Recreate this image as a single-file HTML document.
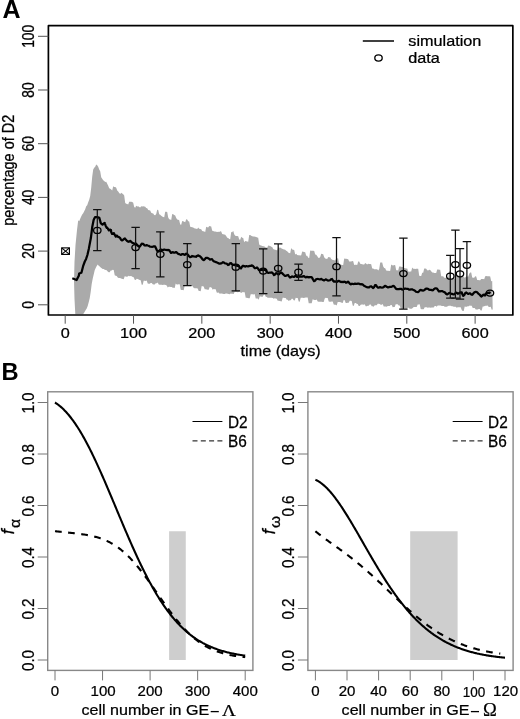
<!DOCTYPE html><html><head><meta charset="utf-8"><style>html,body{margin:0;padding:0;background:#fff;}svg{display:block;filter:blur(0.35px);}</style></head><body><svg width="520" height="719" viewBox="0 0 520 719"><rect width="520" height="719" fill="#fff"/><polygon points="78.2,220.24 79.2,221.24 80.2,218.74 81.2,216.42 82.2,214.38 83.2,213.14 84.2,211.29 85.2,209.29 86.2,206.21 87.2,205.36 88.2,202.36 89.2,199.7 90.2,196.01 91.2,187.74 92.2,176.76 93.2,169.55 94.2,167.75 95.2,166.63 96.2,164.46 97.2,165.22 98.2,166.8 99.2,169.48 100.2,171.28 101.2,177.26 102.2,178.87 103.2,180.18 104.2,181.04 105.2,181.97 106.2,181.69 107.2,183.66 108.2,185.63 109.2,188.35 110.2,188.71 111.2,189.56 112.2,190.45 113.2,186.22 114.2,187.03 115.2,186.92 116.2,187.66 117.2,190.49 118.2,191.49 119.2,193.07 120.2,194.07 121.2,192.85 122.2,193.61 123.2,194.27 124.2,195.38 125.2,203.11 126.2,203.77 127.2,203.89 128.2,204.55 129.2,201.63 130.2,201.74 131.2,201.86 132.2,201.97 133.2,202.77 134.2,206.99 135.2,207.86 136.2,205.85 137.2,206.59 138.2,206.17 139.2,207 140.2,207.38 141.2,206.16 142.2,206.39 143.2,206.32 144.2,206.55 145.2,206.78 146.2,208.05 147.2,208.28 148.2,210.04 149.2,210.27 150.2,210.52 151.2,212.82 152.2,213.26 153.2,213.6 154.2,214.91 155.2,215.25 156.2,213.98 157.2,209.73 158.2,210.07 159.2,214.29 160.2,214.63 161.2,215.69 162.2,216.56 163.2,216.91 164.2,217.31 165.2,211.66 166.2,211.65 167.2,212.05 168.2,217.39 169.2,219.16 170.2,219.56 171.2,219.96 172.2,213.89 173.2,214.29 174.2,215.06 175.2,215.46 176.2,218.01 177.2,219.38 178.2,219.78 179.2,220.18 180.2,224.45 181.2,224.85 182.2,220.95 183.2,221.35 184.2,221.75 185.2,222.15 186.2,219.21 187.2,219.51 188.2,221.31 189.2,221.61 190.2,226.68 191.2,226.98 192.2,227.28 193.2,227.58 194.2,228.13 195.2,228.43 196.2,228.73 197.2,229.03 198.2,227.52 199.2,228.7 200.2,229 201.2,229.3 202.2,231.07 203.2,231.31 204.2,231.61 205.2,231.91 206.2,226.77 207.2,227.18 208.2,227.48 209.2,225.92 210.2,226.17 211.2,226.43 212.2,230.74 213.2,230.99 214.2,231.59 215.2,231.39 216.2,231.64 217.2,231.89 218.2,231.77 219.2,232.02 220.2,231.32 221.2,231.57 222.2,233.94 223.2,234.19 224.2,234.44 225.2,234.7 226.2,236.03 227.2,237.68 228.2,237.98 229.2,238.93 230.2,239.19 231.2,232.06 232.2,232.31 233.2,230.78 234.2,234.21 235.2,235.67 236.2,235.88 237.2,235.92 238.2,236.13 239.2,239.43 240.2,239.64 241.2,236.85 242.2,237.83 243.2,238.04 244.2,242.18 245.2,241.01 246.2,241.22 247.2,241.43 248.2,241.64 249.2,234.88 250.2,235.11 251.2,235.82 252.2,236.13 253.2,236.43 254.2,236.5 255.2,236.8 256.2,237.11 257.2,237.41 258.2,237.72 259.2,244.45 260.2,245.32 261.2,245.62 262.2,245.93 263.2,246.23 264.2,246.3 265.2,247.17 266.2,247.47 267.2,247.78 268.2,245.48 269.2,245.78 270.2,246.08 271.2,246.72 272.2,247.03 273.2,249.08 274.2,249.38 275.2,249.68 276.2,249.97 277.2,250.6 278.2,247.4 279.2,247.7 280.2,247.41 281.2,248.37 282.2,248.67 283.2,249.13 284.2,249.43 285.2,249.72 286.2,250.85 287.2,251.15 288.2,252.61 289.2,252.91 290.2,253.21 291.2,247.88 292.2,249.52 293.2,249.81 294.2,250.11 295.2,254.4 296.2,253.77 297.2,255.01 298.2,255.17 299.2,255.32 300.2,255.47 301.2,255.18 302.2,251.58 303.2,251.74 304.2,251.89 305.2,252.15 306.2,255.69 307.2,255.85 308.2,257.78 309.2,257.93 310.2,250.51 311.2,250.67 312.2,250.71 313.2,250.87 314.2,251.02 315.2,254.51 316.2,254.66 317.2,256.05 318.2,257.85 319.2,258.02 320.2,257.02 321.2,253.73 322.2,253.94 323.2,254.14 324.2,257.24 325.2,258.5 326.2,258.7 327.2,258.91 328.2,256.93 329.2,257.13 330.2,257.34 331.2,259.07 332.2,259.77 333.2,259.97 334.2,260.18 335.2,260.38 336.2,258.22 337.2,258.31 338.2,258.51 339.2,264.27 340.2,264.48 341.2,264.68 342.2,264.88 343.2,265.04 344.2,258.46 345.2,258.66 346.2,258.83 347.2,258.99 348.2,259.15 349.2,261.4 350.2,261.57 351.2,261.53 352.2,261.08 353.2,261.25 354.2,265.08 355.2,264.64 356.2,264.8 357.2,264.96 358.2,261.41 359.2,261.57 360.2,263.64 361.2,264.1 362.2,264.27 363.2,264.43 364.2,264.59 365.2,263.09 366.2,263.74 367.2,264.6 368.2,263.78 369.2,263.95 370.2,264.1 371.2,264.2 372.2,268.39 373.2,268.49 374.2,269.13 375.2,269.23 376.2,269.16 377.2,269.26 378.2,270.5 379.2,269.06 380.2,262.38 381.2,262.48 382.2,262.58 383.2,266.59 384.2,268.04 385.2,268.14 386.2,270.58 387.2,270.68 388.2,270.78 389.2,270.88 390.2,270.67 391.2,264.47 392.2,265.28 393.2,265.39 394.2,265.08 395.2,265.23 396.2,270.19 397.2,270.33 398.2,270.48 399.2,266.47 400.2,266.62 401.2,266.77 402.2,266.92 403.2,267.07 404.2,268.12 405.2,268.27 406.2,268.42 407.2,268.56 408.2,271.6 409.2,271.75 410.2,271.48 411.2,271.62 412.2,267.42 413.2,268.72 414.2,268.86 415.2,269.01 416.2,268.64 417.2,268.74 418.2,268.77 419.2,275.81 420.2,275.91 421.2,276.01 422.2,272.71 423.2,272.81 424.2,268.49 425.2,268.59 426.2,268.69 427.2,270.37 428.2,270.47 429.2,269.79 430.2,269.89 431.2,271.33 432.2,272.45 433.2,272.55 434.2,273.1 435.2,272.89 436.2,272.99 437.2,269.43 438.2,269.53 439.2,269.63 440.2,269.73 441.2,276.16 442.2,276.26 443.2,276.37 444.2,277.75 445.2,277.85 446.2,277.96 447.2,277.33 448.2,277.43 449.2,271.31 450.2,271.42 451.2,279.31 452.2,279.41 453.2,278.45 454.2,278.55 455.2,278.66 456.2,275.31 457.2,275.42 458.2,275.52 459.2,276.37 460.2,276.47 461.2,276.66 462.2,276.77 463.2,276.86 464.2,277.43 465.2,277.53 466.2,276.45 467.2,276.55 468.2,276.87 469.2,273.71 470.2,272.41 471.2,272.51 472.2,277.6 473.2,277.64 474.2,277.73 475.2,276.33 476.2,276.42 477.2,279.94 478.2,280.04 479.2,280.19 480.2,280.29 481.2,278.9 482.2,279 483.2,279.1 484.2,279.32 485.2,276.19 486.2,276.12 487.2,276.37 488.2,276.26 489.2,276.16 490.2,276.59 491.2,281.17 492.2,281.07 492.7,309.58 491.7,309.64 490.7,306.82 489.7,306.88 488.7,306.94 487.7,305.59 486.7,305.65 485.7,305.72 484.7,306.11 483.7,306.58 482.7,306.53 481.7,310.49 480.7,310.44 479.7,308.95 478.7,308.9 477.7,309.51 476.7,309.46 475.7,309.4 474.7,308.03 473.7,307.98 472.7,307.92 471.7,305.69 470.7,305.63 469.7,305.58 468.7,306.25 467.7,306.2 466.7,306.71 465.7,306.63 464.7,306.58 463.7,311.07 462.7,311.02 461.7,310.06 460.7,307.19 459.7,307.19 458.7,307.19 457.7,307.19 456.7,307.68 455.7,306.82 454.7,306.82 453.7,306.82 452.7,306.31 451.7,306.31 450.7,305.77 449.7,305.77 448.7,305.77 447.7,306.35 446.7,306.79 445.7,306.79 444.7,306.79 443.7,306.04 442.7,306.04 441.7,306.07 440.7,305.59 439.7,305.59 438.7,305.58 437.7,305.55 436.7,306.69 435.7,305.91 434.7,305.88 433.7,307.56 432.7,307.53 431.7,307.5 430.7,307.73 429.7,307.6 428.7,307.57 427.7,307.82 426.7,307.19 425.7,307.16 424.7,307.13 423.7,309.24 422.7,309.21 421.7,309.14 420.7,309.11 419.7,304.33 418.7,304.55 417.7,304.52 416.7,306.97 415.7,306.95 414.7,306.93 413.7,306.91 412.7,308.12 411.7,308.66 410.7,308.64 409.7,308.63 408.7,307.79 407.7,307.78 406.7,308.53 405.7,308.51 404.7,308.49 403.7,308.33 402.7,308.79 401.7,308.77 400.7,308.76 399.7,305.41 398.7,305.39 397.7,304.28 396.7,304.26 395.7,304.24 394.7,306.98 393.7,306.97 392.7,307.16 391.7,305.08 390.7,305.03 389.7,306.05 388.7,306 387.7,305.95 386.7,306.67 385.7,306.62 384.7,306.57 383.7,306.51 382.7,304.11 381.7,304.81 380.7,304.82 379.7,303.89 378.7,303.84 377.7,303.79 376.7,305.27 375.7,305.22 374.7,305.33 373.7,306.64 372.7,306.2 371.7,306.15 370.7,304.58 369.7,304.52 368.7,305.86 367.7,305.77 366.7,306.33 365.7,306.25 364.7,304.29 363.7,304.65 362.7,304.57 361.7,304.48 360.7,304.75 359.7,306.1 358.7,306.06 357.7,303.92 356.7,303.84 355.7,302.99 354.7,302.9 353.7,305.93 352.7,305.42 351.7,300.92 350.7,300.75 349.7,300.67 348.7,302.81 347.7,302.73 346.7,302.97 345.7,302.89 344.7,300.19 343.7,300.11 342.7,302.91 341.7,302.82 340.7,302.21 339.7,302.11 338.7,302.01 337.7,301.91 336.7,305.39 335.7,304.75 334.7,304.65 333.7,304.55 332.7,301.55 331.7,301.45 330.7,301.79 329.7,301.69 328.7,301.59 327.7,298.06 326.7,297.96 325.7,297.86 324.7,298.55 323.7,302.05 322.7,301.95 321.7,301.85 320.7,301.75 319.7,301.72 318.7,301.63 317.7,301.58 316.7,299.43 315.7,299.93 314.7,299.88 313.7,299.82 312.7,299.33 311.7,303.34 310.7,303.29 309.7,303.24 308.7,303.18 307.7,297.49 306.7,297.44 305.7,297.39 304.7,297.86 303.7,297.89 302.7,297.84 301.7,297.79 300.7,297.74 299.7,301.63 298.7,301.46 297.7,297.93 296.7,297.88 295.7,297.81 294.7,300.43 293.7,300.33 292.7,298.82 291.7,298.72 290.7,300.36 289.7,300.26 288.7,301.07 287.7,299.85 286.7,299.75 285.7,298.01 284.7,297.91 283.7,297.81 282.7,297.71 281.7,301.46 280.7,301.36 279.7,300.97 278.7,300.87 277.7,300.77 276.7,298.65 275.7,298.55 274.7,298.17 273.7,298.85 272.7,297.88 271.7,297.85 270.7,297.8 269.7,297.75 268.7,297.7 267.7,297.66 266.7,296.89 265.7,296.85 264.7,294.35 263.7,294.71 262.7,296.71 261.7,296.66 260.7,296.61 259.7,296.56 258.7,299.74 257.7,298.47 256.7,298.42 255.7,298.38 254.7,294.02 253.7,294.39 252.7,294.34 251.7,294.29 250.7,294.24 249.7,298.32 248.7,298.14 247.7,297.99 246.7,297.83 245.7,297.68 244.7,292.28 243.7,292.13 242.7,291.98 241.7,292.8 240.7,292.64 239.7,291.48 238.7,291.9 237.7,292.22 236.7,292.07 235.7,291.91 234.7,291.75 233.7,293.98 232.7,293.82 231.7,293.7 230.7,293.55 229.7,294.23 228.7,294.08 227.7,293.71 226.7,293.56 225.7,293.42 224.7,294.05 223.7,293.9 222.7,293.75 221.7,293.61 220.7,293.46 219.7,293.86 218.7,292.45 217.7,292.73 216.7,292.53 215.7,289.32 214.7,289.17 213.7,289.03 212.7,289.68 211.7,287.73 210.7,287.27 209.7,287.12 208.7,289.75 207.7,289.65 206.7,289.55 205.7,289.37 204.7,289.27 203.7,286.43 202.7,286.18 201.7,286.08 200.7,291.18 199.7,291.08 198.7,290.98 197.7,288.44 196.7,288.34 195.7,288.24 194.7,288.14 193.7,288.04 192.7,286.35 191.7,286.04 190.7,285.94 189.7,285.84 188.7,285.84 187.7,285.74 186.7,285.64 185.7,285.59 184.7,285.49 183.7,290.21 182.7,290.11 181.7,290.01 180.7,289.64 179.7,284.29 178.7,284.19 177.7,284.61 176.7,284.51 175.7,283.4 174.7,287.89 173.7,287.79 172.7,287.69 171.7,286.92 170.7,286.91 169.7,286.81 168.7,286.71 167.7,287.53 166.7,285.57 165.7,284.91 164.7,284.81 163.7,284.71 162.7,284.97 161.7,284.87 160.7,284.76 159.7,284.73 158.7,284.62 157.7,282.43 156.7,283.37 155.7,283.26 154.7,284.55 153.7,284.44 152.7,284.33 151.7,283.01 150.7,282.9 149.7,283.78 148.7,283.65 147.7,283.52 146.7,280.58 145.7,280.96 144.7,280.83 143.7,280.7 142.7,284.81 141.7,284.68 140.7,280.2 139.7,279.97 138.7,279.5 137.7,279.03 136.7,278.82 135.7,280.05 134.7,279.66 133.7,277.27 132.7,276.99 131.7,276.29 130.7,276.01 129.7,276.34 128.7,275.85 127.7,276.39 126.7,276.78 125.7,276.47 124.7,276.16 123.7,279.25 122.7,278.94 121.7,278.63 120.7,278.31 119.7,277.95 118.7,277.95 117.7,277.58 116.7,276.01 115.7,275.65 114.7,275.31 113.7,270.03 112.7,269.69 111.7,270.49 110.7,270.44 109.7,272.23 108.7,272.26 107.7,271.45 106.7,270.32 105.7,269.97 104.7,269.64 103.7,268.92 102.7,269.08 101.7,268.35 100.7,267.57 99.7,266.49 98.7,265.68 97.7,264.62 96.7,266.06 95.7,267.95 94.7,270.21 93.7,274.38 92.7,278.75 91.7,284 90.7,292 89.7,298.35 88.7,302.27 87.7,306.02 86.7,308.46 85.7,310 84.7,311.81 83.7,313.61 82.7,314.3 75.3,314.3 74.5,299 74,281 74.5,262 75.5,245 77,230" fill="#aaaaaa"/><polyline points="72.3,278.3 75.3,279.49 76.6,280 78.8,275.7 79.2,273.5 81.4,272.7 82.2,269.7 83.1,266.2 84.8,261.5 86.1,258.9 87.4,255 88.8,248.9 90.9,237.8 92.3,226.7 93.7,219.7 95.1,217 97.2,217 99.3,217.84 100.3,221.27 100.6,222.8 101.6,223.96 102.6,224.67 102.7,224.49 103.7,223.54 104.7,222.94 104.8,223.36 105.8,226.22 106.8,227.86 106.9,227.31 107.9,228.69 108.9,230.48 109,230.48 110,229.69 111,230.02 111.1,231.8 112.1,233.93 113.1,233.83 113.8,233.13 114.8,234.98 115.8,236.67 115.9,235.67 116.9,235.64 117.9,236.71 118,236.84 119,237.06 120,237.8 120.9,239.62 121.9,240.4 122.9,239.92 123.9,239.02 124.9,238.41 125.7,239.44 126.7,240.53 127.7,241.38 128.7,241.79 129.7,241.19 130.4,240.87 131.4,242.05 132.4,242.75 133.4,243.27 134.4,243.79 135.1,243.74 136.1,243.6 137.1,245.09 138.1,245.99 139.1,246.59 139.8,246.55 140.8,245.1 141.8,243.65 142.8,243.77 143.8,244.51 144.6,245.42 145.6,245.5 146.6,245.11 147.6,245.52 148.6,245.73 149.6,246.41 150,246.7 151,246.75 152,246.83 153,246.65 154,246.27 155,246.39 156,248.24 157,250.57 158,251.46 159,250.97 160,249.97 161,249.57 162,250.17 163,249.98 164,249.64 165,249.73 166,249.97 167,250.02 168,249.97 169,250.01 170,251.38 171,252.94 172,252.48 173,252.1 174,252.68 175,252.65 176,252.04 177,252.67 178,253.78 179,254.07 180,254.46 181,254.82 182,254.18 183,254.04 184,254.61 185,254.84 186,253.74 187,253.77 188,254.93 189,256.25 190,257.09 191,256.87 192,256 193,256.37 194,256.48 195,256.51 196,256.77 197,255.93 198,255.35 199,255.91 200,256.31 201,257.26 202,258.63 203,259.71 204,260.13 205,258.96 206,257.77 207,257.83 208,258.14 209,258.73 210,259.59 211,259.25 212,259.17 213,260.56 214,261.39 215,261.75 216,262.12 217,262.51 218,262.94 219,263.55 220,263.59 221,263.42 222,262.89 223,262.19 224,262.63 225,263.32 226,263.49 227,263.84 228,265.06 229,264.67 230,263.28 231,263.09 232,264.18 233,264.81 234,264.91 235,265.19 236,265.46 237,265.77 238,265.71 239,266.44 240,268.02 241,268.38 242,266.64 243,265.71 244,266.1 245,266.59 246,266.17 247,266.23 248,266.47 249,266.11 250,265.97 251,265.88 252,265.38 253,265.94 254,267.36 255,268.27 256,267.96 257,267.47 258,268.55 259,270.08 260,270.41 261,269.88 262,269.74 263,270.23 264,269.87 265,269.51 266,270.58 267,272.24 268,272.77 269,272.76 270,272.52 271,272.6 272,272.47 273,273.49 274,275.01 275,274.44 276,273.24 277,273.31 278,274.13 279,274.38 280,273.15 281,272.3 282,273.09 283,274.13 284,275.03 285,275.8 286,275.77 287,275.29 288,275 289,276.35 290,277.59 291,277.12 292,276.45 293,276.73 294,276.99 295,276.07 296,276.08 297,276.85 298,277.01 299,276.61 300,276.6 301,276.62 302,276.66 303,276.34 304,276.09 305,276.9 306,277.38 307,276.84 308,277.07 309,277.41 310,277.03 311,277.06 312,277.61 313,279.48 314,281.09 315,280.71 316,279.37 317,279 318,278.95 319,279.26 320,279.43 321,278.87 322,279.39 323,280.03 324,280.43 325,279.87 326,279.34 327,279.95 328,280.53 329,280.5 330,280.21 331,279.23 332,278.98 333,280.65 334,281.58 335,281.43 336,281.59 337,281.78 338,281.08 339,280.77 340,281.54 341,282.05 342,281.76 343,282.13 344,281.71 345,281.78 346,282.82 347,282.41 348,281.66 349,282.51 350,283.99 351,284.31 352,283.74 353,283.92 354,284.03 355,283.68 356,283.85 357,283.81 358,283.51 359,283.68 360,284.19 361,284.3 362,284.15 363,284.74 364,285.78 365,286.18 366,286.67 367,287.13 368,287.48 369,287.49 370,286.49 371,286.32 372,286.91 373,288.02 374,287.35 375,285.15 376,285.15 377,286.75 378,287.61 379,287.51 380,287.18 381,287.37 382,287.53 383,287.41 384,286.86 385,285.89 386,286.35 387,286.9 388,287.48 389,287.17 390,286.81 391,286.98 392,286.5 393,285.94 394,286.14 395,287.43 396,288.7 397,289.12 398,289.01 399,289.14 400,288.86 401,288.82 402,289.45 403,289.61 404,288.91 405,288.57 406,288.73 407,288.76 408,288.92 409,289.59 410,289.6 411,289.43 412,289.3 413,289.81 414,290.17 415,290.65 416,291.73 417,292 418,292.17 419,291.4 420,290.08 421,289.94 422,290.48 423,290.57 424,290.27 425,289.48 426,288.73 427,288.68 428,288.76 429,289.65 430,289.85 431,289.85 432,290.32 433,290.23 434,289.08 435,288.42 436,288.43 437,288.6 438,290.05 439,291.49 440,291.35 441,291.19 442,291.02 443,291.53 444,291.98 445,292.56 446,293.73 447,294.47 448,293.88 449,293.07 450,292.88 450.8,293.51 451.8,293.85 452.8,294.18 453.8,294.41 454.8,294.05 455.8,292.61 456.8,292.89 457.8,293.74 458.8,293.21 459.8,292.58 460.8,292.36 461.8,292.46 462.3,294.1 463.3,295.85 464.3,295.01 465.3,293.02 466.3,292.5 467.3,293.35 468.3,293.95 469.3,293.35 470.3,293.48 471.3,294.62 472.3,294.75 473.3,293.57 474.3,292.37 475.3,291.95 476.3,291.97 477.3,292.32 478.3,293.62 479.3,294.31 480.3,295.38 481.3,296.47 482.3,295.78 483.3,294.66 484.3,295.27 485.3,295.43 485.4,294.14 486.4,293.22 487.4,292.99 488.4,292.97 489.4,293.01 490,291.63" fill="none" stroke="#000" stroke-width="2.25" stroke-linejoin="round"/><path d="M97.3,209.6V250.5M93.1,209.6H101.5M93.1,250.5H101.5" stroke="#111" stroke-width="1.25" fill="none"/><ellipse cx="97.3" cy="230.4" rx="3.7" ry="3.0" fill="none" stroke="#000" stroke-width="1.3"/><path d="M135.6,227.3V268.7M131.4,227.3H139.8M131.4,268.7H139.8" stroke="#111" stroke-width="1.25" fill="none"/><ellipse cx="135.6" cy="247.6" rx="3.7" ry="3.0" fill="none" stroke="#000" stroke-width="1.3"/><path d="M160.3,231.9V276.9M156.1,231.9H164.5M156.1,276.9H164.5" stroke="#111" stroke-width="1.25" fill="none"/><ellipse cx="160.3" cy="254.3" rx="3.7" ry="3.0" fill="none" stroke="#000" stroke-width="1.3"/><path d="M187.3,243.5V285.5M183.1,243.5H191.5M183.1,285.5H191.5" stroke="#111" stroke-width="1.25" fill="none"/><ellipse cx="187.3" cy="264.7" rx="3.7" ry="3.0" fill="none" stroke="#000" stroke-width="1.3"/><path d="M235.8,243.5V290.8M231.6,243.5H240M231.6,290.8H240" stroke="#111" stroke-width="1.25" fill="none"/><ellipse cx="235.8" cy="267.2" rx="3.7" ry="3.0" fill="none" stroke="#000" stroke-width="1.3"/><path d="M263.2,248.9V293.5M259,248.9H267.4M259,293.5H267.4" stroke="#111" stroke-width="1.25" fill="none"/><ellipse cx="263.2" cy="271.1" rx="3.7" ry="3.0" fill="none" stroke="#000" stroke-width="1.3"/><path d="M278.2,243.8V292.3M274,243.8H282.4M274,292.3H282.4" stroke="#111" stroke-width="1.25" fill="none"/><ellipse cx="278.2" cy="268.3" rx="3.7" ry="3.0" fill="none" stroke="#000" stroke-width="1.3"/><path d="M298.5,264.2V280.3M294.3,264.2H302.7M294.3,280.3H302.7" stroke="#111" stroke-width="1.25" fill="none"/><ellipse cx="298.5" cy="272.2" rx="3.7" ry="3.0" fill="none" stroke="#000" stroke-width="1.3"/><path d="M336.5,237.6V295.8M332.3,237.6H340.7M332.3,295.8H340.7" stroke="#111" stroke-width="1.25" fill="none"/><ellipse cx="336.5" cy="266.7" rx="3.7" ry="3.0" fill="none" stroke="#000" stroke-width="1.3"/><path d="M403.4,238V309.1M399.2,238H407.6M399.2,309.1H407.6" stroke="#111" stroke-width="1.25" fill="none"/><ellipse cx="403.4" cy="273.6" rx="3.7" ry="3.0" fill="none" stroke="#000" stroke-width="1.3"/><path d="M450.3,255.4V298.1M446.1,255.4H454.5M446.1,298.1H454.5" stroke="#111" stroke-width="1.25" fill="none"/><ellipse cx="450.3" cy="276.2" rx="3.7" ry="3.0" fill="none" stroke="#000" stroke-width="1.3"/><path d="M455.4,230V298.1M451.2,230H459.6M451.2,298.1H459.6" stroke="#111" stroke-width="1.25" fill="none"/><ellipse cx="455.4" cy="264.6" rx="3.7" ry="3.0" fill="none" stroke="#000" stroke-width="1.3"/><path d="M460,248.5V299.2M455.8,248.5H464.2M455.8,299.2H464.2" stroke="#111" stroke-width="1.25" fill="none"/><ellipse cx="460" cy="273.8" rx="3.7" ry="3.0" fill="none" stroke="#000" stroke-width="1.3"/><path d="M466.9,241.5V288.4M462.7,241.5H471.1M462.7,288.4H471.1" stroke="#111" stroke-width="1.25" fill="none"/><ellipse cx="466.9" cy="265.3" rx="3.7" ry="3.0" fill="none" stroke="#000" stroke-width="1.3"/><ellipse cx="490" cy="293.1" rx="3.7" ry="3.0" fill="none" stroke="#000" stroke-width="1.3"/><g stroke="#000" stroke-width="1.15" fill="none"><rect x="61.7" y="247.9" width="7.7" height="6.5"/><path d="M61.7,247.9L69.4,254.4M69.4,247.9L61.7,254.4"/></g><rect x="48.4" y="25.65" width="464.45" height="289.35" fill="none" stroke="#000" stroke-width="1.7" stroke-linejoin="round"/><line x1="38" y1="304.8" x2="48.4" y2="304.8" stroke="#555" stroke-width="1"/><text transform="translate(33.9,304.8) scale(1.18,1) rotate(-90)" text-anchor="middle" font-family='"Liberation Sans", sans-serif' font-size="13.8" font-weight="normal" font-style="normal" fill="#000" stroke="#000" stroke-width="0.25">0</text><line x1="38" y1="251.1" x2="48.4" y2="251.1" stroke="#555" stroke-width="1"/><text transform="translate(33.9,251.1) scale(1.18,1) rotate(-90)" text-anchor="middle" font-family='"Liberation Sans", sans-serif' font-size="13.8" font-weight="normal" font-style="normal" fill="#000" stroke="#000" stroke-width="0.25">20</text><line x1="38" y1="197.4" x2="48.4" y2="197.4" stroke="#555" stroke-width="1"/><text transform="translate(33.9,197.4) scale(1.18,1) rotate(-90)" text-anchor="middle" font-family='"Liberation Sans", sans-serif' font-size="13.8" font-weight="normal" font-style="normal" fill="#000" stroke="#000" stroke-width="0.25">40</text><line x1="38" y1="143.7" x2="48.4" y2="143.7" stroke="#555" stroke-width="1"/><text transform="translate(33.9,143.7) scale(1.18,1) rotate(-90)" text-anchor="middle" font-family='"Liberation Sans", sans-serif' font-size="13.8" font-weight="normal" font-style="normal" fill="#000" stroke="#000" stroke-width="0.25">60</text><line x1="38" y1="90" x2="48.4" y2="90" stroke="#555" stroke-width="1"/><text transform="translate(33.9,90) scale(1.18,1) rotate(-90)" text-anchor="middle" font-family='"Liberation Sans", sans-serif' font-size="13.8" font-weight="normal" font-style="normal" fill="#000" stroke="#000" stroke-width="0.25">80</text><line x1="38" y1="36.3" x2="48.4" y2="36.3" stroke="#555" stroke-width="1"/><text transform="translate(33.9,36.3) scale(1.18,1) rotate(-90)" text-anchor="middle" font-family='"Liberation Sans", sans-serif' font-size="13.8" font-weight="normal" font-style="normal" fill="#000" stroke="#000" stroke-width="0.25">100</text><line x1="65.2" y1="315.0" x2="65.2" y2="323.7" stroke="#555" stroke-width="1"/><text transform="translate(65.2,338.2) scale(1.12,1)" text-anchor="middle" font-family='"Liberation Sans", sans-serif' font-size="14.5" font-weight="normal" font-style="normal" fill="#000" stroke="#000" stroke-width="0.25">0</text><line x1="133.52" y1="315.0" x2="133.52" y2="323.7" stroke="#555" stroke-width="1"/><text transform="translate(133.52,338.2) scale(1.12,1)" text-anchor="middle" font-family='"Liberation Sans", sans-serif' font-size="14.5" font-weight="normal" font-style="normal" fill="#000" stroke="#000" stroke-width="0.25">100</text><line x1="201.84" y1="315.0" x2="201.84" y2="323.7" stroke="#555" stroke-width="1"/><text transform="translate(201.84,338.2) scale(1.12,1)" text-anchor="middle" font-family='"Liberation Sans", sans-serif' font-size="14.5" font-weight="normal" font-style="normal" fill="#000" stroke="#000" stroke-width="0.25">200</text><line x1="270.16" y1="315.0" x2="270.16" y2="323.7" stroke="#555" stroke-width="1"/><text transform="translate(270.16,338.2) scale(1.12,1)" text-anchor="middle" font-family='"Liberation Sans", sans-serif' font-size="14.5" font-weight="normal" font-style="normal" fill="#000" stroke="#000" stroke-width="0.25">300</text><line x1="338.48" y1="315.0" x2="338.48" y2="323.7" stroke="#555" stroke-width="1"/><text transform="translate(338.48,338.2) scale(1.12,1)" text-anchor="middle" font-family='"Liberation Sans", sans-serif' font-size="14.5" font-weight="normal" font-style="normal" fill="#000" stroke="#000" stroke-width="0.25">400</text><line x1="406.8" y1="315.0" x2="406.8" y2="323.7" stroke="#555" stroke-width="1"/><text transform="translate(406.8,338.2) scale(1.12,1)" text-anchor="middle" font-family='"Liberation Sans", sans-serif' font-size="14.5" font-weight="normal" font-style="normal" fill="#000" stroke="#000" stroke-width="0.25">500</text><line x1="475.12" y1="315.0" x2="475.12" y2="323.7" stroke="#555" stroke-width="1"/><text transform="translate(475.12,338.2) scale(1.12,1)" text-anchor="middle" font-family='"Liberation Sans", sans-serif' font-size="14.5" font-weight="normal" font-style="normal" fill="#000" stroke="#000" stroke-width="0.25">600</text><text transform="translate(280.6,356) scale(1.08,1)" text-anchor="middle" font-family='"Liberation Sans", sans-serif' font-size="15.0" font-weight="normal" font-style="normal" fill="#000" stroke="#000" stroke-width="0.25">time (days)</text><text transform="translate(14.3,170.3) scale(1.12,1) rotate(-90)" text-anchor="middle" font-family='"Liberation Sans", sans-serif' font-size="14.5" font-weight="normal" font-style="normal" fill="#000" stroke="#000" stroke-width="0.25">percentage of D2</text><line x1="362.8" y1="41" x2="394" y2="41" stroke="#000" stroke-width="1.5"/><ellipse cx="378.5" cy="58" rx="3.7" ry="3.1" fill="none" stroke="#000" stroke-width="1.3"/><text transform="translate(408.3,45.9) scale(1.12,1)" text-anchor="start" font-family='"Liberation Sans", sans-serif' font-size="14.5" font-weight="normal" font-style="normal" fill="#000" stroke="#000" stroke-width="0.25">simulation</text><text transform="translate(408.3,62.9) scale(1.12,1)" text-anchor="start" font-family='"Liberation Sans", sans-serif' font-size="14.5" font-weight="normal" font-style="normal" fill="#000" stroke="#000" stroke-width="0.25">data</text><text transform="translate(2.4,18.3) scale(1.0,1)" text-anchor="start" font-family='"Liberation Sans", sans-serif' font-size="25" font-weight="bold" font-style="normal" fill="#000">A</text><text transform="translate(1.6,379.5) scale(1.0,1)" text-anchor="start" font-family='"Liberation Sans", sans-serif' font-size="23.7" font-weight="bold" font-style="normal" fill="#000">B</text><rect x="169.12" y="531.25" width="16.64" height="128.75" fill="#cecece"/><polyline points="55,402.5 55.8,403.02 56.59,403.56 57.39,404.13 58.18,404.72 58.98,405.34 59.77,405.99 60.57,406.66 61.37,407.35 62.16,408.08 62.96,408.82 63.75,409.6 64.55,410.4 65.35,411.23 66.14,412.08 66.94,412.96 67.73,413.87 68.53,414.8 69.32,415.76 70.12,416.74 70.92,417.75 71.71,418.79 72.51,419.85 73.3,420.94 74.1,422.06 74.9,423.2 75.69,424.36 76.49,425.55 77.28,426.77 78.08,428.01 78.87,429.27 79.67,430.56 80.47,431.88 81.26,433.21 82.06,434.57 82.85,435.96 83.65,437.36 84.45,438.79 85.24,440.24 86.04,441.71 86.83,443.2 87.63,444.72 88.42,446.25 89.22,447.8 90.02,449.38 90.81,450.97 91.61,452.58 92.4,454.21 93.2,455.85 93.99,457.52 94.79,459.2 95.59,460.89 96.38,462.6 97.18,464.33 97.97,466.07 98.77,467.82 99.57,469.59 100.36,471.37 101.16,473.16 101.95,474.96 102.75,476.78 103.54,478.6 104.34,480.43 105.14,482.28 105.93,484.13 106.73,485.98 107.52,487.85 108.32,489.72 109.12,491.6 109.91,493.48 110.71,495.37 111.5,497.26 112.3,499.16 113.09,501.06 113.89,502.96 114.69,504.86 115.48,506.77 116.28,508.67 117.07,510.57 117.87,512.48 118.67,514.38 119.46,516.28 120.26,518.17 121.05,520.07 121.85,521.96 122.64,523.84 123.44,525.73 124.24,527.6 125.03,529.47 125.83,531.34 126.62,533.19 127.42,535.04 128.22,536.89 129.01,538.72 129.81,540.54 130.6,542.36 131.4,544.16 132.19,545.96 132.99,547.74 133.79,549.52 134.58,551.28 135.38,553.03 136.17,554.77 136.97,556.5 137.76,558.21 138.56,559.91 139.36,561.59 140.15,563.26 140.95,564.92 141.74,566.57 142.54,568.19 143.34,569.81 144.13,571.4 144.93,572.99 145.72,574.55 146.52,576.1 147.31,577.63 148.11,579.15 148.91,580.65 149.7,582.14 150.5,583.6 151.29,585.05 152.09,586.48 152.89,587.9 153.68,589.3 154.48,590.67 155.27,592.04 156.07,593.38 156.86,594.71 157.66,596.01 158.46,597.3 159.25,598.58 160.05,599.83 160.84,601.07 161.64,602.28 162.44,603.48 163.23,604.66 164.03,605.83 164.82,606.97 165.62,608.1 166.41,609.21 167.21,610.3 168.01,611.38 168.8,612.43 169.6,613.47 170.39,614.5 171.19,615.5 171.98,616.49 172.78,617.46 173.58,618.41 174.37,619.34 175.17,620.26 175.96,621.16 176.76,622.05 177.56,622.92 178.35,623.77 179.15,624.61 179.94,625.43 180.74,626.23 181.53,627.02 182.33,627.8 183.13,628.55 183.92,629.3 184.72,630.03 185.51,630.74 186.31,631.44 187.11,632.12 187.9,632.79 188.7,633.45 189.49,634.09 190.29,634.72 191.08,635.34 191.88,635.94 192.68,636.53 193.47,637.1 194.27,637.67 195.06,638.22 195.86,638.76 196.66,639.28 197.45,639.8 198.25,640.3 199.04,640.79 199.84,641.27 200.63,641.74 201.43,642.2 202.23,642.65 203.02,643.09 203.82,643.51 204.61,643.93 205.41,644.34 206.21,644.73 207,645.12 207.8,645.5 208.59,645.87 209.39,646.23 210.18,646.58 210.98,646.92 211.78,647.26 212.57,647.58 213.37,647.9 214.16,648.21 214.96,648.51 215.75,648.8 216.55,649.09 217.35,649.37 218.14,649.64 218.94,649.91 219.73,650.17 220.53,650.42 221.33,650.66 222.12,650.9 222.92,651.13 223.71,651.36 224.51,651.58 225.3,651.8 226.1,652.01 226.9,652.21 227.69,652.41 228.49,652.6 229.28,652.79 230.08,652.97 230.88,653.15 231.67,653.32 232.47,653.49 233.26,653.65 234.06,653.81 234.85,653.97 235.65,654.12 236.45,654.27 237.24,654.41 238.04,654.55 238.83,654.68 239.63,654.81 240.43,654.94 241.22,655.06 242.02,655.19 242.81,655.3 243.61,655.42 244.4,655.53 245.2,655.64" fill="none" stroke="#000" stroke-width="2.1" stroke-linejoin="round"/><polyline points="55,531.25 55.8,531.33 56.59,531.41 57.39,531.49 58.18,531.57 58.98,531.65 59.77,531.74 60.57,531.82 61.37,531.9 62.16,531.98 62.96,532.06 63.75,532.15 64.55,532.23 65.35,532.31 66.14,532.39 66.94,532.48 67.73,532.56 68.53,532.64 69.32,532.73 70.12,532.81 70.92,532.9 71.71,532.98 72.51,533.07 73.3,533.15 74.1,533.24 74.9,533.33 75.69,533.42 76.49,533.51 77.28,533.61 78.08,533.71 78.87,533.8 79.67,533.91 80.47,534.01 81.26,534.12 82.06,534.23 82.85,534.34 83.65,534.46 84.45,534.58 85.24,534.7 86.04,534.83 86.83,534.97 87.63,535.11 88.42,535.25 89.22,535.41 90.02,535.56 90.81,535.73 91.61,535.9 92.4,536.07 93.2,536.26 93.99,536.45 94.79,536.65 95.59,536.86 96.38,537.08 97.18,537.3 97.97,537.54 98.77,537.79 99.57,538.04 100.36,538.31 101.16,538.58 101.95,538.87 102.75,539.17 103.54,539.48 104.34,539.8 105.14,540.14 105.93,540.48 106.73,540.84 107.52,541.22 108.32,541.6 109.12,542 109.91,542.42 110.71,542.84 111.5,543.29 112.3,543.74 113.09,544.22 113.89,544.7 114.69,545.21 115.48,545.72 116.28,546.26 117.07,546.81 117.87,547.37 118.67,547.96 119.46,548.55 120.26,549.17 121.05,549.8 121.85,550.45 122.64,551.11 123.44,551.79 124.24,552.49 125.03,553.2 125.83,553.93 126.62,554.68 127.42,555.44 128.22,556.22 129.01,557.01 129.81,557.82 130.6,558.65 131.4,559.49 132.19,560.35 132.99,561.23 133.79,562.12 134.58,563.02 135.38,563.94 136.17,564.87 136.97,565.82 137.76,566.78 138.56,567.75 139.36,568.74 140.15,569.74 140.95,570.75 141.74,571.77 142.54,572.81 143.34,573.85 144.13,574.91 144.93,575.97 145.72,577.05 146.52,578.13 147.31,579.22 148.11,580.32 148.91,581.43 149.7,582.54 150.5,583.66 151.29,584.78 152.09,585.91 152.89,587.05 153.68,588.18 154.48,589.32 155.27,590.47 156.07,591.61 156.86,592.76 157.66,593.9 158.46,595.05 159.25,596.19 160.05,597.34 160.84,598.48 161.64,599.62 162.44,600.76 163.23,601.89 164.03,603.02 164.82,604.14 165.62,605.26 166.41,606.37 167.21,607.48 168.01,608.58 168.8,609.67 169.6,610.75 170.39,611.82 171.19,612.89 171.98,613.94 172.78,614.99 173.58,616.02 174.37,617.05 175.17,618.06 175.96,619.06 176.76,620.05 177.56,621.02 178.35,621.99 179.15,622.94 179.94,623.87 180.74,624.8 181.53,625.7 182.33,626.6 183.13,627.48 183.92,628.35 184.72,629.2 185.51,630.03 186.31,630.85 187.11,631.66 187.9,632.45 188.7,633.23 189.49,633.99 190.29,634.73 191.08,635.46 191.88,636.18 192.68,636.88 193.47,637.56 194.27,638.23 195.06,638.88 195.86,639.52 196.66,640.14 197.45,640.75 198.25,641.34 199.04,641.92 199.84,642.48 200.63,643.03 201.43,643.56 202.23,644.08 203.02,644.59 203.82,645.08 204.61,645.56 205.41,646.02 206.21,646.47 207,646.91 207.8,647.34 208.59,647.75 209.39,648.15 210.18,648.54 210.98,648.92 211.78,649.28 212.57,649.64 213.37,649.98 214.16,650.31 214.96,650.63 215.75,650.94 216.55,651.24 217.35,651.53 218.14,651.82 218.94,652.09 219.73,652.35 220.53,652.6 221.33,652.85 222.12,653.08 222.92,653.31 223.71,653.53 224.51,653.74 225.3,653.94 226.1,654.14 226.9,654.33 227.69,654.51 228.49,654.69 229.28,654.85 230.08,655.02 230.88,655.17 231.67,655.32 232.47,655.47 233.26,655.61 234.06,655.74 234.85,655.87 235.65,655.99 236.45,656.11 237.24,656.22 238.04,656.33 238.83,656.44 239.63,656.54 240.43,656.63 241.22,656.72 242.02,656.81 242.81,656.9 243.61,656.98 244.4,657.05 245.2,657.13" fill="none" stroke="#000" stroke-width="2.1" stroke-dasharray="6.7,6.5" stroke-linejoin="round"/><rect x="47.7" y="391.8" width="205.2" height="278.6" fill="none" stroke="#888" stroke-width="1.4"/><line x1="37.7" y1="660" x2="47.7" y2="660" stroke="#777" stroke-width="1"/><text transform="translate(33.5,660.5) scale(1.07,1) rotate(-90)" text-anchor="middle" font-family='"Liberation Sans", sans-serif' font-size="15.3" font-weight="normal" font-style="normal" fill="#000" stroke="#000" stroke-width="0.25">0.0</text><line x1="37.7" y1="608.5" x2="47.7" y2="608.5" stroke="#777" stroke-width="1"/><text transform="translate(33.5,609) scale(1.07,1) rotate(-90)" text-anchor="middle" font-family='"Liberation Sans", sans-serif' font-size="15.3" font-weight="normal" font-style="normal" fill="#000" stroke="#000" stroke-width="0.25">0.2</text><line x1="37.7" y1="557" x2="47.7" y2="557" stroke="#777" stroke-width="1"/><text transform="translate(33.5,557.5) scale(1.07,1) rotate(-90)" text-anchor="middle" font-family='"Liberation Sans", sans-serif' font-size="15.3" font-weight="normal" font-style="normal" fill="#000" stroke="#000" stroke-width="0.25">0.4</text><line x1="37.7" y1="505.5" x2="47.7" y2="505.5" stroke="#777" stroke-width="1"/><text transform="translate(33.5,506) scale(1.07,1) rotate(-90)" text-anchor="middle" font-family='"Liberation Sans", sans-serif' font-size="15.3" font-weight="normal" font-style="normal" fill="#000" stroke="#000" stroke-width="0.25">0.6</text><line x1="37.7" y1="454" x2="47.7" y2="454" stroke="#777" stroke-width="1"/><text transform="translate(33.5,454.5) scale(1.07,1) rotate(-90)" text-anchor="middle" font-family='"Liberation Sans", sans-serif' font-size="15.3" font-weight="normal" font-style="normal" fill="#000" stroke="#000" stroke-width="0.25">0.8</text><line x1="37.7" y1="402.5" x2="47.7" y2="402.5" stroke="#777" stroke-width="1"/><text transform="translate(33.5,403) scale(1.07,1) rotate(-90)" text-anchor="middle" font-family='"Liberation Sans", sans-serif' font-size="15.3" font-weight="normal" font-style="normal" fill="#000" stroke="#000" stroke-width="0.25">1.0</text><line x1="55" y1="670.4" x2="55" y2="680.4" stroke="#777" stroke-width="1"/><text transform="translate(55,695.6) scale(0.99,1)" text-anchor="middle" font-family='"Liberation Sans", sans-serif' font-size="15.2" font-weight="normal" font-style="normal" fill="#000" stroke="#000" stroke-width="0.25">0</text><line x1="102.55" y1="670.4" x2="102.55" y2="680.4" stroke="#777" stroke-width="1"/><text transform="translate(103.15,695.6) scale(0.99,1)" text-anchor="middle" font-family='"Liberation Sans", sans-serif' font-size="15.2" font-weight="normal" font-style="normal" fill="#000" stroke="#000" stroke-width="0.25">100</text><line x1="150.1" y1="670.4" x2="150.1" y2="680.4" stroke="#777" stroke-width="1"/><text transform="translate(150.1,695.6) scale(0.99,1)" text-anchor="middle" font-family='"Liberation Sans", sans-serif' font-size="15.2" font-weight="normal" font-style="normal" fill="#000" stroke="#000" stroke-width="0.25">200</text><line x1="197.65" y1="670.4" x2="197.65" y2="680.4" stroke="#777" stroke-width="1"/><text transform="translate(197.65,695.6) scale(0.99,1)" text-anchor="middle" font-family='"Liberation Sans", sans-serif' font-size="15.2" font-weight="normal" font-style="normal" fill="#000" stroke="#000" stroke-width="0.25">300</text><line x1="245.2" y1="670.4" x2="245.2" y2="680.4" stroke="#777" stroke-width="1"/><text transform="translate(245.2,695.6) scale(0.99,1)" text-anchor="middle" font-family='"Liberation Sans", sans-serif' font-size="15.2" font-weight="normal" font-style="normal" fill="#000" stroke="#000" stroke-width="0.25">400</text><line x1="192.5" y1="421.5" x2="222.4" y2="421.5" stroke="#000" stroke-width="1.0"/><line x1="192.5" y1="440.9" x2="222.4" y2="440.9" stroke="#000" stroke-width="1.0" stroke-dasharray="5,3.3"/><text transform="translate(227.9,427.6) scale(0.95,1)" text-anchor="start" font-family='"Liberation Sans", sans-serif' font-size="16.2" font-weight="normal" font-style="normal" fill="#000" stroke="#000" stroke-width="0.25">D2</text><text transform="translate(227.9,446.8) scale(0.95,1)" text-anchor="start" font-family='"Liberation Sans", sans-serif' font-size="16.2" font-weight="normal" font-style="normal" fill="#000" stroke="#000" stroke-width="0.25">B6</text><text transform="translate(81.4,715.1) scale(1.073,1)" text-anchor="start" font-family='"Liberation Sans", sans-serif' font-size="15" font-weight="normal" font-style="normal" fill="#000" stroke="#000" stroke-width="0.25">cell number in GE</text><line x1="210.7" y1="711.6" x2="218.8" y2="711.6" stroke="#000" stroke-width="1.3"/><text transform="translate(222,716.4) scale(1.13,1)" text-anchor="start" font-family='"Liberation Serif", serif' font-size="16.9" font-weight="normal" font-style="normal" fill="#000" stroke="#000" stroke-width="0.2">Λ</text><text transform="translate(14.4,534.3) scale(1.0,1) rotate(-90)" text-anchor="start" font-family='"Liberation Sans", sans-serif' font-size="17.5" font-weight="normal" font-style="italic" fill="#000" stroke="#000" stroke-width="0.3">f</text><text transform="translate(19.8,528) scale(1.0,1) rotate(-90)" text-anchor="start" font-family='"Liberation Sans", sans-serif' font-size="15.5" font-weight="normal" font-style="normal" fill="#000" stroke="#000" stroke-width="0.3">α</text><rect x="410.2" y="531.25" width="47.4" height="128.75" fill="#cecece"/><polyline points="315.4,479.75 316.19,480.12 316.99,480.52 317.78,480.95 318.57,481.42 319.37,481.92 320.16,482.45 320.95,483.02 321.75,483.61 322.54,484.24 323.33,484.9 324.13,485.58 324.92,486.3 325.71,487.04 326.51,487.81 327.3,488.61 328.09,489.43 328.89,490.28 329.68,491.16 330.47,492.06 331.27,492.99 332.06,493.94 332.85,494.91 333.65,495.9 334.44,496.92 335.23,497.96 336.03,499.02 336.82,500.09 337.61,501.19 338.41,502.31 339.2,503.44 339.99,504.59 340.79,505.76 341.58,506.94 342.37,508.14 343.17,509.35 343.96,510.58 344.75,511.82 345.55,513.07 346.34,514.33 347.13,515.61 347.93,516.9 348.72,518.19 349.51,519.5 350.31,520.82 351.1,522.14 351.89,523.47 352.69,524.81 353.48,526.16 354.27,527.51 355.07,528.87 355.86,530.23 356.65,531.6 357.45,532.97 358.24,534.35 359.03,535.72 359.83,537.1 360.62,538.48 361.41,539.87 362.21,541.25 363,542.63 363.79,544.02 364.58,545.4 365.38,546.78 366.17,548.16 366.96,549.54 367.76,550.92 368.55,552.29 369.34,553.66 370.14,555.03 370.93,556.39 371.72,557.75 372.52,559.1 373.31,560.45 374.1,561.8 374.9,563.13 375.69,564.47 376.48,565.79 377.28,567.11 378.07,568.42 378.86,569.73 379.66,571.02 380.45,572.31 381.24,573.59 382.04,574.87 382.83,576.13 383.62,577.39 384.42,578.63 385.21,579.87 386,581.1 386.8,582.32 387.59,583.53 388.38,584.73 389.18,585.92 389.97,587.09 390.76,588.26 391.56,589.42 392.35,590.57 393.14,591.7 393.94,592.83 394.73,593.95 395.52,595.05 396.32,596.14 397.11,597.22 397.9,598.29 398.7,599.35 399.49,600.4 400.28,601.43 401.08,602.46 401.87,603.47 402.66,604.47 403.46,605.46 404.25,606.44 405.04,607.4 405.84,608.36 406.63,609.3 407.42,610.23 408.22,611.15 409.01,612.05 409.8,612.95 410.6,613.83 411.39,614.7 412.18,615.56 412.98,616.41 413.77,617.25 414.56,618.07 415.36,618.88 416.15,619.69 416.94,620.48 417.74,621.25 418.53,622.02 419.32,622.78 420.12,623.52 420.91,624.26 421.7,624.98 422.5,625.69 423.29,626.39 424.08,627.08 424.88,627.76 425.67,628.43 426.46,629.08 427.26,629.73 428.05,630.37 428.84,630.99 429.64,631.61 430.43,632.21 431.22,632.81 432.02,633.39 432.81,633.97 433.6,634.53 434.4,635.09 435.19,635.63 435.98,636.17 436.78,636.7 437.57,637.21 438.36,637.72 439.16,638.22 439.95,638.71 440.74,639.19 441.54,639.66 442.33,640.13 443.12,640.58 443.92,641.03 444.71,641.47 445.5,641.9 446.3,642.32 447.09,642.73 447.88,643.14 448.68,643.54 449.47,643.93 450.26,644.31 451.06,644.68 451.85,645.05 452.64,645.41 453.44,645.76 454.23,646.11 455.02,646.45 455.82,646.78 456.61,647.1 457.4,647.42 458.19,647.73 458.99,648.04 459.78,648.34 460.57,648.63 461.37,648.91 462.16,649.19 462.95,649.47 463.75,649.74 464.54,650 465.33,650.26 466.13,650.51 466.92,650.75 467.71,650.99 468.51,651.23 469.3,651.46 470.09,651.68 470.89,651.9 471.68,652.12 472.47,652.33 473.27,652.53 474.06,652.73 474.85,652.93 475.65,653.12 476.44,653.3 477.23,653.49 478.03,653.66 478.82,653.84 479.61,654.01 480.41,654.17 481.2,654.33 481.99,654.49 482.79,654.64 483.58,654.8 484.37,654.94 485.17,655.08 485.96,655.22 486.75,655.36 487.55,655.49 488.34,655.62 489.13,655.75 489.93,655.87 490.72,655.99 491.51,656.11 492.31,656.22 493.1,656.33 493.89,656.44 494.69,656.55 495.48,656.65 496.27,656.75 497.07,656.85 497.86,656.94 498.65,657.03 499.45,657.12 500.24,657.21 501.03,657.29 501.83,657.38 502.62,657.46 503.41,657.54 504.21,657.61 505,657.69" fill="none" stroke="#000" stroke-width="2.1" stroke-linejoin="round"/><polyline points="315.4,531.25 316.17,531.88 316.95,532.51 317.72,533.13 318.49,533.74 319.27,534.34 320.04,534.94 320.81,535.53 321.59,536.12 322.36,536.71 323.13,537.28 323.91,537.86 324.68,538.43 325.46,539 326.23,539.56 327,540.12 327.78,540.68 328.55,541.24 329.32,541.8 330.1,542.35 330.87,542.91 331.64,543.46 332.42,544.01 333.19,544.56 333.96,545.11 334.74,545.67 335.51,546.22 336.28,546.77 337.06,547.32 337.83,547.88 338.6,548.44 339.38,548.99 340.15,549.55 340.92,550.11 341.7,550.68 342.47,551.24 343.25,551.81 344.02,552.38 344.79,552.96 345.57,553.53 346.34,554.11 347.11,554.69 347.89,555.28 348.66,555.87 349.43,556.46 350.21,557.05 350.98,557.65 351.75,558.25 352.53,558.86 353.3,559.47 354.07,560.08 354.85,560.7 355.62,561.32 356.39,561.94 357.17,562.57 357.94,563.21 358.71,563.84 359.49,564.48 360.26,565.13 361.03,565.77 361.81,566.43 362.58,567.08 363.36,567.74 364.13,568.41 364.9,569.07 365.68,569.74 366.45,570.42 367.22,571.1 368,571.78 368.77,572.47 369.54,573.16 370.32,573.85 371.09,574.54 371.86,575.24 372.64,575.94 373.41,576.65 374.18,577.36 374.96,578.07 375.73,578.78 376.5,579.5 377.28,580.22 378.05,580.94 378.82,581.66 379.6,582.38 380.37,583.11 381.15,583.84 381.92,584.57 382.69,585.3 383.47,586.03 384.24,586.77 385.01,587.5 385.79,588.24 386.56,588.98 387.33,589.72 388.11,590.46 388.88,591.19 389.65,591.93 390.43,592.67 391.2,593.41 391.97,594.15 392.75,594.89 393.52,595.63 394.29,596.36 395.07,597.1 395.84,597.83 396.61,598.57 397.39,599.3 398.16,600.03 398.94,600.76 399.71,601.48 400.48,602.21 401.26,602.93 402.03,603.65 402.8,604.37 403.58,605.08 404.35,605.8 405.12,606.51 405.9,607.21 406.67,607.92 407.44,608.61 408.22,609.31 408.99,610 409.76,610.69 410.54,611.38 411.31,612.06 412.08,612.73 412.86,613.41 413.63,614.07 414.4,614.74 415.18,615.4 415.95,616.05 416.72,616.7 417.5,617.34 418.27,617.98 419.05,618.62 419.82,619.25 420.59,619.87 421.37,620.49 422.14,621.1 422.91,621.71 423.69,622.31 424.46,622.91 425.23,623.5 426.01,624.08 426.78,624.66 427.55,625.23 428.33,625.8 429.1,626.36 429.87,626.91 430.65,627.46 431.42,628 432.19,628.54 432.97,629.07 433.74,629.59 434.51,630.11 435.29,630.62 436.06,631.12 436.84,631.62 437.61,632.11 438.38,632.6 439.16,633.07 439.93,633.55 440.7,634.01 441.48,634.47 442.25,634.92 443.02,635.37 443.8,635.81 444.57,636.25 445.34,636.67 446.12,637.09 446.89,637.51 447.66,637.92 448.44,638.32 449.21,638.72 449.98,639.11 450.76,639.49 451.53,639.87 452.3,640.24 453.08,640.61 453.85,640.97 454.63,641.32 455.4,641.67 456.17,642.01 456.95,642.35 457.72,642.68 458.49,643 459.27,643.32 460.04,643.63 460.81,643.94 461.59,644.24 462.36,644.54 463.13,644.83 463.91,645.12 464.68,645.4 465.45,645.68 466.23,645.95 467,646.21 467.77,646.47 468.55,646.73 469.32,646.98 470.09,647.22 470.87,647.46 471.64,647.7 472.41,647.93 473.19,648.16 473.96,648.38 474.74,648.6 475.51,648.81 476.28,649.02 477.06,649.22 477.83,649.42 478.6,649.62 479.38,649.81 480.15,650 480.92,650.19 481.7,650.37 482.47,650.54 483.24,650.71 484.02,650.88 484.79,651.05 485.56,651.21 486.34,651.37 487.11,651.52 487.88,651.67 488.66,651.82 489.43,651.96 490.2,652.11 490.98,652.24 491.75,652.38 492.53,652.51 493.3,652.64 494.07,652.76 494.85,652.89 495.62,653.01 496.39,653.12 497.17,653.24 497.94,653.35 498.71,653.46 499.49,653.56 500.26,653.66" fill="none" stroke="#000" stroke-width="2.1" stroke-dasharray="6.7,6.5" stroke-linejoin="round"/><rect x="307.9" y="391.8" width="205.2" height="278.6" fill="none" stroke="#888" stroke-width="1.4"/><line x1="297.9" y1="660" x2="307.9" y2="660" stroke="#777" stroke-width="1"/><text transform="translate(293.7,660.5) scale(1.07,1) rotate(-90)" text-anchor="middle" font-family='"Liberation Sans", sans-serif' font-size="15.3" font-weight="normal" font-style="normal" fill="#000" stroke="#000" stroke-width="0.25">0.0</text><line x1="297.9" y1="608.5" x2="307.9" y2="608.5" stroke="#777" stroke-width="1"/><text transform="translate(293.7,609) scale(1.07,1) rotate(-90)" text-anchor="middle" font-family='"Liberation Sans", sans-serif' font-size="15.3" font-weight="normal" font-style="normal" fill="#000" stroke="#000" stroke-width="0.25">0.2</text><line x1="297.9" y1="557" x2="307.9" y2="557" stroke="#777" stroke-width="1"/><text transform="translate(293.7,557.5) scale(1.07,1) rotate(-90)" text-anchor="middle" font-family='"Liberation Sans", sans-serif' font-size="15.3" font-weight="normal" font-style="normal" fill="#000" stroke="#000" stroke-width="0.25">0.4</text><line x1="297.9" y1="505.5" x2="307.9" y2="505.5" stroke="#777" stroke-width="1"/><text transform="translate(293.7,506) scale(1.07,1) rotate(-90)" text-anchor="middle" font-family='"Liberation Sans", sans-serif' font-size="15.3" font-weight="normal" font-style="normal" fill="#000" stroke="#000" stroke-width="0.25">0.6</text><line x1="297.9" y1="454" x2="307.9" y2="454" stroke="#777" stroke-width="1"/><text transform="translate(293.7,454.5) scale(1.07,1) rotate(-90)" text-anchor="middle" font-family='"Liberation Sans", sans-serif' font-size="15.3" font-weight="normal" font-style="normal" fill="#000" stroke="#000" stroke-width="0.25">0.8</text><line x1="297.9" y1="402.5" x2="307.9" y2="402.5" stroke="#777" stroke-width="1"/><text transform="translate(293.7,403) scale(1.07,1) rotate(-90)" text-anchor="middle" font-family='"Liberation Sans", sans-serif' font-size="15.3" font-weight="normal" font-style="normal" fill="#000" stroke="#000" stroke-width="0.25">1.0</text><line x1="315.4" y1="670.4" x2="315.4" y2="680.4" stroke="#777" stroke-width="1"/><text transform="translate(315.4,695.6) scale(0.99,1)" text-anchor="middle" font-family='"Liberation Sans", sans-serif' font-size="15.2" font-weight="normal" font-style="normal" fill="#000" stroke="#000" stroke-width="0.25">0</text><line x1="347" y1="670.4" x2="347" y2="680.4" stroke="#777" stroke-width="1"/><text transform="translate(347,695.6) scale(0.99,1)" text-anchor="middle" font-family='"Liberation Sans", sans-serif' font-size="15.2" font-weight="normal" font-style="normal" fill="#000" stroke="#000" stroke-width="0.25">20</text><line x1="378.6" y1="670.4" x2="378.6" y2="680.4" stroke="#777" stroke-width="1"/><text transform="translate(378.6,695.6) scale(0.99,1)" text-anchor="middle" font-family='"Liberation Sans", sans-serif' font-size="15.2" font-weight="normal" font-style="normal" fill="#000" stroke="#000" stroke-width="0.25">40</text><line x1="410.2" y1="670.4" x2="410.2" y2="680.4" stroke="#777" stroke-width="1"/><text transform="translate(410.2,695.6) scale(0.99,1)" text-anchor="middle" font-family='"Liberation Sans", sans-serif' font-size="15.2" font-weight="normal" font-style="normal" fill="#000" stroke="#000" stroke-width="0.25">60</text><line x1="441.8" y1="670.4" x2="441.8" y2="680.4" stroke="#777" stroke-width="1"/><text transform="translate(441.8,695.6) scale(0.99,1)" text-anchor="middle" font-family='"Liberation Sans", sans-serif' font-size="15.2" font-weight="normal" font-style="normal" fill="#000" stroke="#000" stroke-width="0.25">80</text><line x1="473.4" y1="670.4" x2="473.4" y2="680.4" stroke="#777" stroke-width="1"/><text transform="translate(474,696.9) scale(0.93,1)" text-anchor="middle" font-family='"Liberation Sans", sans-serif' font-size="14.6" font-weight="normal" font-style="normal" fill="#000" stroke="#000" stroke-width="0.25">100</text><line x1="505" y1="670.4" x2="505" y2="680.4" stroke="#777" stroke-width="1"/><text transform="translate(505.6,695.6) scale(0.99,1)" text-anchor="middle" font-family='"Liberation Sans", sans-serif' font-size="15.2" font-weight="normal" font-style="normal" fill="#000" stroke="#000" stroke-width="0.25">120</text><line x1="452.7" y1="421.5" x2="482.6" y2="421.5" stroke="#000" stroke-width="1.0"/><line x1="452.7" y1="440.9" x2="482.6" y2="440.9" stroke="#000" stroke-width="1.0" stroke-dasharray="5,3.3"/><text transform="translate(488.1,427.6) scale(0.95,1)" text-anchor="start" font-family='"Liberation Sans", sans-serif' font-size="16.2" font-weight="normal" font-style="normal" fill="#000" stroke="#000" stroke-width="0.25">D2</text><text transform="translate(488.1,446.8) scale(0.95,1)" text-anchor="start" font-family='"Liberation Sans", sans-serif' font-size="16.2" font-weight="normal" font-style="normal" fill="#000" stroke="#000" stroke-width="0.25">B6</text><text transform="translate(341.6,715.1) scale(1.073,1)" text-anchor="start" font-family='"Liberation Sans", sans-serif' font-size="15" font-weight="normal" font-style="normal" fill="#000" stroke="#000" stroke-width="0.25">cell number in GE</text><line x1="470.9" y1="711.6" x2="479" y2="711.6" stroke="#000" stroke-width="1.3"/><text transform="translate(482.9,716.1) scale(1.0,1)" text-anchor="start" font-family='"Liberation Serif", serif' font-size="18.6" font-weight="normal" font-style="normal" fill="#000" stroke="#000" stroke-width="0.2">Ω</text><text transform="translate(274.6,534.3) scale(1.0,1) rotate(-90)" text-anchor="start" font-family='"Liberation Sans", sans-serif' font-size="17.5" font-weight="normal" font-style="italic" fill="#000" stroke="#000" stroke-width="0.3">f</text><text transform="translate(280,528) scale(1.0,1) rotate(-90)" text-anchor="start" font-family='"Liberation Sans", sans-serif' font-size="15.5" font-weight="normal" font-style="normal" fill="#000" stroke="#000" stroke-width="0.3">ω</text></svg></body></html>
